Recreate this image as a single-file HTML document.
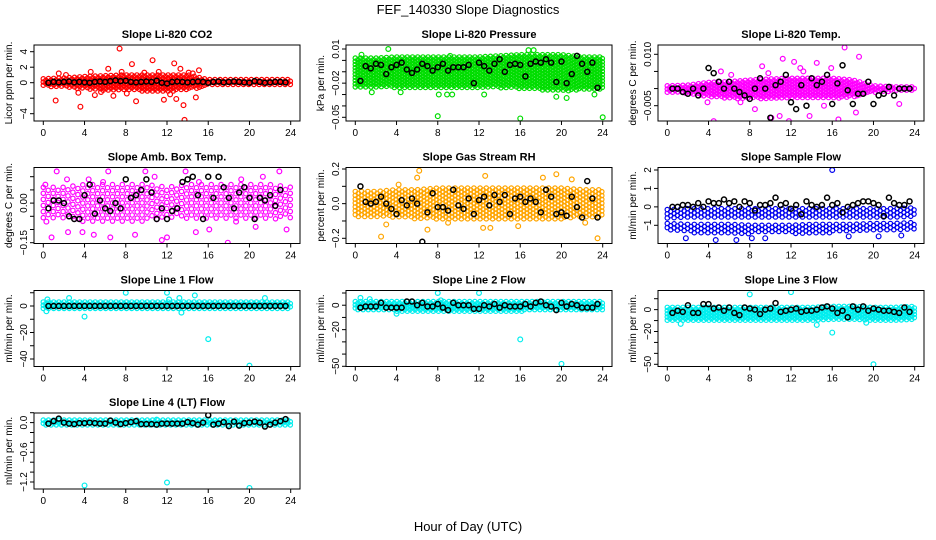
<!DOCTYPE html>
<html><head><meta charset="utf-8"><style>
html,body{margin:0;padding:0;background:#fff;}
svg{display:block;font-family:"Liberation Sans",sans-serif;}
</style></head><body>
<svg id="chart" width="936" height="540" viewBox="0 0 936 540">
<text x="468" y="14" text-anchor="middle" font-size="13">FEF_140330  Slope Diagnostics</text>
<text x="468" y="531" text-anchor="middle" font-size="13">Hour of Day (UTC)</text>
</svg>
<script>
const hours = [0.5,1,1.5,2,2.5,3,3.5,4,4.5,5,5.5,6,6.5,7,7.5,8,8.5,9,9.5,10,10.5,11,11.5,12,12.5,13,13.5,14,14.5,15,15.5,16,16.5,17,17.5,18,18.5,19,19.5,20,20.5,21,21.5,22,22.5,23,23.5];
const bandHours = [0,2,4,6,8,10,12,14,16,18,20,22,24];
const xTicks = [0,4,8,12,16,20,24];

const co2Black = [0,0.1,0.05,0.1,0.15,0.05,0.1,0.05,0,0.1,0.15,0.1,0.2,0.3,0.2,0.25,0.1,0.05,0.1,0.15,0.1,0.25,0,-0.1,0.1,0.15,0.1,0.05,0.1,0.15,0.1,0,0.1,0.15,0.05,0.1,0.15,0.1,0.05,0,0.2,0.1,0,0.05,0.1,0.1,0.05];
const co2Lo = [-0.5,-0.6,-0.8,-1.0,-1.0,-1.1,-1.1,-1.0,-0.4,-0.3,-0.3,-0.3,-0.3];
const co2Hi = [0.5,0.6,0.8,0.9,1.0,1.0,1.0,1.0,0.4,0.4,0.4,0.4,0.4];
const co2OutX = [1.2,3.6,7.4,8.6,10.6,12.7,13.6,13.7,6.3,9,11.7,14.8,5,7.6,15.1,13.3,1.5,4.6,6.8,12.9,14.5,2.2,3.4,9.8,11.2,12.3,14.1,5.6,8.1];
const co2OutY = [-2.3,-3.1,4.4,2.4,2.9,2.5,-2.9,-4.8,1.8,-2.4,-2.2,-1.9,-1.6,1.4,1.6,1.8,1.2,1.4,-1.7,-2.1,1.2,1.0,-1.3,1.3,1.4,-1.5,1.3,-1.2,-1.4];

const pressBlack = [-0.018,-0.005,-0.007,-0.003,-0.004,-0.012,-0.006,-0.004,-0.002,-0.008,-0.011,-0.008,-0.003,-0.005,-0.009,-0.006,-0.003,-0.009,-0.006,-0.006,-0.006,-0.004,-0.02,-0.002,-0.005,-0.009,-0.003,0.001,-0.01,-0.004,-0.003,-0.004,-0.014,-0.003,-0.001,-0.002,0.001,-0.002,-0.019,-0.001,-0.02,-0.012,0.004,-0.003,-0.01,-0.002,-0.024];
const pressLo = [-0.024,-0.024,-0.024,-0.025,-0.025,-0.025,-0.024,-0.024,-0.025,-0.026,-0.027,-0.026,-0.025];
const pressHi = [0.002,0.002,0.003,0.003,0.003,0.003,0.003,0.004,0.005,0.005,0.005,0.003,0.003];
const pressOutX = [8,16,24,3.2,16.8,17.3,9.2,1.6,4.4,8.1,8.9,9.4,12.5,19.5,20.5,23.2,0.6];
const pressOutY = [-0.049,-0.051,-0.05,0.01,0.009,0.009,0.004,-0.028,-0.028,-0.03,-0.03,-0.03,-0.03,-0.032,-0.033,-0.03,0.005];

const tempBlack = [0,0,-0.001,-0.0015,0,-0.002,0,0.006,0.0045,0.002,0,0.002,0,-0.001,-0.002,-0.003,0,0.003,0,-0.0085,0.001,0.002,0.004,-0.004,-0.006,0.001,-0.005,0.003,0.001,0.002,0.004,-0.0045,0.0015,0.0068,-0.0005,-0.0045,-0.0015,-0.0015,0.002,-0.0045,-0.002,-0.0015,0.0005,-0.002,0,0,0];
const tempLo = [-0.0012,-0.0015,-0.0025,-0.003,-0.003,-0.003,-0.003,-0.003,-0.003,-0.0025,-0.0012,-0.0008,-0.0008];
const tempHi = [0.0008,0.001,0.0018,0.002,0.0025,0.0028,0.003,0.003,0.003,0.0025,0.0008,0.0005,0.0005];
const tempOutX = [4.5,10.1,17.2,18.6,11.2,16,14.5,9.2,12.3,22.5,16.6,11.8,7.1,13.8,5.2,15.9,10.9,12.9,8.5,18.3,6.2,13.2,15.2,3.9,9.8];
const tempOutY = [-0.0095,-0.0085,0.012,0.0093,0.0087,-0.011,0.0075,0.0065,0.0078,-0.0045,-0.009,-0.0095,-0.004,-0.008,0.005,0.006,-0.008,0.006,-0.006,-0.007,0.004,0.005,-0.005,-0.004,0.0045];

const ambBlack = [-0.02,0.01,0.01,0,-0.05,-0.06,-0.06,0.03,0.07,-0.04,0.01,-0.02,-0.03,0,-0.02,0.09,0.02,0.03,0.05,0.09,0.04,-0.06,-0.02,-0.06,-0.03,-0.02,0.08,0.09,0.1,0.03,-0.06,0.1,0.02,0.1,0.06,0.02,-0.02,0.04,0.06,0.02,-0.06,0.02,0.01,0.03,-0.01,0.05,0.15];
const ambLo = [-0.06,-0.06,-0.07,-0.07,-0.07,-0.07,-0.06,-0.06,-0.06,-0.06,-0.06,-0.06,-0.06];
const ambHi = [0.06,0.06,0.07,0.07,0.07,0.07,0.06,0.07,0.07,0.07,0.07,0.07,0.06];
const ambOutX = [1.3,0.8,0.3,6.3,6.5,9.9,11.5,12,13.8,14.8,17.9,22.9,23.6,20.6,4.9,2.4,3.8,8.9,16.1,18.7,2.3,4.4,10.8,15.1,21.3,0.2,5.8,19.2];
const ambOutY = [0.12,-0.13,-0.07,0.12,-0.13,0.12,-0.14,-0.13,0.12,-0.11,-0.15,0.12,-0.1,-0.09,-0.12,-0.11,-0.11,-0.12,-0.1,-0.07,0.09,0.09,0.1,0.08,0.1,0.07,0.08,0.09];

const rhBlack = [0.1,0.01,0,0.01,0.04,0,-0.03,-0.06,0.02,-0.01,0.03,0,-0.22,-0.05,0.06,-0.02,-0.02,-0.04,0.08,-0.01,-0.03,0.03,-0.06,0.02,0.04,-0.01,0.05,0.01,0.05,-0.06,0.03,0.04,0.01,0.03,0.01,-0.05,0.08,0.04,-0.06,-0.05,-0.07,0.04,-0.02,-0.08,0.13,0.03,-0.08];
const rhLo = [-0.08,-0.08,-0.08,-0.09,-0.09,-0.09,-0.09,-0.09,-0.09,-0.09,-0.09,-0.08,-0.08];
const rhHi = [0.07,0.07,0.08,0.08,0.09,0.09,0.09,0.09,0.09,0.09,0.09,0.08,0.08];
const rhOutX = [2.5,6.2,12.6,19.5,23.5,7,6,21,13.1,3,15.8,22.3,4.2,18.2,12.4,9];
const rhOutY = [-0.19,0.19,0.16,0.17,-0.2,-0.15,0.15,0.14,-0.14,-0.12,-0.13,-0.11,0.11,0.15,-0.14,-0.11];

const flowBlack = [0,0,0.1,0.1,0,0.2,0,0.3,0.2,0.2,0.4,0.2,0.3,0,0.3,0.2,-0.2,0.1,0.1,0.2,0.5,0.1,0.2,-0.1,0.1,-0.4,0.3,0.1,0,0.1,0.5,0.1,0.2,-0.3,0,0.1,0.2,0.3,0.3,0.2,0.1,-0.5,0.5,0.2,0.1,0.1,0.3];
const flowLo = [-0.65,-0.65,-0.65,-0.65,-0.65,-0.65,-0.65,-0.65,-0.65,-0.65,-0.65,-0.65,-0.6];
const flowHi = [-0.15,-0.1,-0.1,-0.1,-0.1,-0.1,-0.1,-0.1,-0.1,-0.1,-0.1,-0.1,-0.05];
const flowLo2 = [-1.35,-1.4,-1.45,-1.45,-1.45,-1.45,-1.45,-1.45,-1.4,-1.35,-1.35,-1.35,-1.3];
const flowHi2 = [-0.9,-0.95,-0.95,-0.95,-1.0,-1.0,-1.0,-0.95,-0.95,-0.95,-0.9,-0.9,-0.85];
const flowOutX = [16,4.7,1.8,6.7,9.5,17.6,20.5,22.7,8.2];
const flowOutY = [2,-1.8,-1.7,-1.8,-1.7,-1.6,-1.6,-1.55,-1.7];

const line1Black = [0,0,0,0,0,0,0,0,0,0,0,0,0,0,0,0,0,0,0,0,0,0,0,0,0,0,0,0,0,0,0,0,0,0,0,0,0,0,0,0,0,0,0,0,0,0,0];
const line1Lo = [-3,-3,-3,-3,-3,-3,-3,-3,-3,-3,-3,-3,-3];
const line1Hi = [3,3,3,3,3,3,3,3,3,3,3,3,3];
const line1OutX = [16,20,8,12,4,14.7,13.2,13.4,21.5,2.5,0.4,0.3,12.2];
const line1OutY = [-25,-45,10,10,-8,8,6,-5,6,6,5,-4,5];

const line2Black = [-2,-1,-1,-1,2,-2,-2,-2,-2,3,3,0,2,-1,-1,1,-2,-4,2,0,0,0,-3,-3,0,-1,1,-2,0,-1,-1,-1,1,-1,2,3,0,-1,-4,2,-1,1,0,-2,-2,-2,1];
const line2Lo = [-4,-4,-5,-5,-5,-5,-5,-5,-5,-4,-4,-4,-4];
const line2Hi = [3,3,3,3,3,3,3,3,3,3,3,3,3];
const line2OutX = [16,20,8,12,4,0.5,1.4,8.3];
const line2OutY = [-28,-48,10,10,-7,6,5,4];

const line3Black = [-3,-1,-2,4,-3,-3,5,5,1,2,-1,2,-3,-5,2,1,0,-4,0,1,6,-2,-1,0,1,-2,-1,-1,0,2,3,1,-3,-1,-7,3,0,3,-1,1,0,-1,-1,-2,-3,2,-2];
const line3Lo = [-10,-11,-11,-11,-11,-11,-11,-11,-10,-10,-11,-11,-10];
const line3Hi = [2,2,2,2,2,2,2,2,3,3,2,2,3];
const line3OutX = [16,20,8,12,1.3,14.5,19.3];
const line3OutY = [-21,-50,14,16,-13,-14,-12];

const line4Black = [-0.02,0.03,0.08,0,-0.02,-0.03,-0.01,-0.01,0,-0.01,-0.02,-0.02,0.04,0,-0.03,-0.01,0.01,0.03,-0.03,-0.03,-0.03,-0.04,-0.02,-0.02,-0.02,-0.02,-0.02,0.01,-0.01,-0.04,0,0.15,-0.04,-0.02,0.01,-0.07,0.02,-0.06,-0.01,0,0.02,0,-0.08,-0.04,0,0.03,0.07];
const line4Lo = [-0.06,-0.06,-0.06,-0.06,-0.06,-0.06,-0.06,-0.06,-0.06,-0.06,-0.06,-0.06,-0.06];
const line4Hi = [0.05,0.05,0.05,0.05,0.05,0.05,0.05,0.05,0.05,0.05,0.05,0.05,0.05];
const line4OutX = [4,12,20,11];
const line4OutY = [-1.27,-1.21,-1.32,0.06];

const NS = 'http://www.w3.org/2000/svg';
const svg = document.getElementById('chart');
function mk(tag, attrs, parent) {
  const e = document.createElementNS(NS, tag);
  for (const k in attrs) e.setAttribute(k, attrs[k]);
  (parent || svg).appendChild(e);
  return e;
}
const colLeft = [34, 346, 658];
const rowTop = [45, 167.5, 290.5, 413];
const BW = 266, BH = 76;

const panels = [
  {name:'co2', title:'Slope Li-820 CO2', ylab:'Licor ppm per min.', color:'#ff0000', c:0, r:0, a:[4,51.7,-4,113.7], ticks:[4,2,0,-2,-4], labels:['4','2','0','','−4'], black:co2Black, bands:[[co2Lo,co2Hi]], ox:co2OutX, oy:co2OutY, dens:1},
  {name:'pressure', title:'Slope Li-820 Pressure', ylab:'kPa per min.', color:'#00dd00', c:1, r:0, a:[0.01,49,-0.05,117.3], ticks:[0.01,0,-0.01,-0.02,-0.03,-0.04,-0.05], labels:['0.01','','','−0.02','','','−0.05'], black:pressBlack, bands:[[pressLo,pressHi]], ox:pressOutX, oy:pressOutY, dens:1},
  {name:'temp', title:'Slope Li-820 Temp.', ylab:'degrees C per min.', color:'#ff00ff', c:2, r:0, a:[0.01,54.3,-0.005,105.7], ticks:[0.01,0.005,0,-0.005], labels:['0.010','','','−0.005'], black:tempBlack, bands:[[tempLo,tempHi]], ox:tempOutX, oy:tempOutY, dens:1},
  {name:'amb-box-temp', title:'Slope Amb. Box Temp.', ylab:'degrees C per min.', color:'#ff00ff', c:0, r:1, a:[0.1,176.7,-0.15,242.7], ticks:[0.1,0.05,0,-0.05,-0.1,-0.15], labels:['','','0.00','','','−0.15'], black:ambBlack, bands:[[ambLo,ambHi]], ox:ambOutX, oy:ambOutY, dens:1.9},
  {name:'gas-stream-rh', title:'Slope Gas Stream RH', ylab:'percent per min.', color:'#ffa500', c:1, r:1, a:[0.2,169,-0.2,238.3], ticks:[0.2,0.1,0,-0.1,-0.2], labels:['0.2','','0.0','','−0.2'], black:rhBlack, bands:[[rhLo,rhHi]], ox:rhOutX, oy:rhOutY, dens:1.2},
  {name:'sample-flow', title:'Slope Sample Flow', ylab:'ml/min per min.', color:'#0000ee', c:2, r:1, a:[2,170,-1,225.3], ticks:[2,1,0,-1], labels:['2','1','0','−1'], black:flowBlack, bands:[[flowLo,flowHi],[flowLo2,flowHi2]], ox:flowOutX, oy:flowOutY, dens:1.3},
  {name:'line1-flow', title:'Slope Line 1 Flow', ylab:'ml/min per min.', color:'#00eeee', c:0, r:2, a:[0,306,-40,359], ticks:[10,0,-10,-20,-30,-40], labels:['','0','','−20','','−40'], black:line1Black, bands:[[line1Lo,line1Hi]], ox:line1OutX, oy:line1OutY, dens:1},
  {name:'line2-flow', title:'Slope Line 2 Flow', ylab:'ml/min per min.', color:'#00eeee', c:1, r:2, a:[10,293,-50,366.3], ticks:[10,0,-10,-20,-30,-40,-50], labels:['','0','','−20','','','−50'], black:line2Black, bands:[[line2Lo,line2Hi]], ox:line2OutX, oy:line2OutY, dens:1},
  {name:'line3-flow', title:'Slope Line 3 Flow', ylab:'ml/min per min.', color:'#00eeee', c:2, r:2, a:[10,298.7,-50,364.3], ticks:[10,0,-10,-20,-30,-40,-50], labels:['','0','','−20','','','−50'], black:line3Black, bands:[[line3Lo,line3Hi]], ox:line3OutX, oy:line3OutY, dens:1},
  {name:'line4-flow', title:'Slope Line 4 (LT) Flow', ylab:'ml/min per min.', color:'#00eeee', c:0, r:3, a:[0.2,412.7,-1.2,482], ticks:[0.2,0,-0.2,-0.4,-0.6,-0.8,-1,-1.2], labels:['','0.0','','','−0.6','','','−1.2'], black:line4Black, bands:[[line4Lo,line4Hi]], ox:line4OutX, oy:line4OutY, dens:1}
];

panels.forEach(function(p, pi) {
  const L = colLeft[p.c], T = rowTop[p.r];
  const xs = function(h){ return L + 9.3 + h * (247.4 / 24); };
  const ys = function(v){ return p.a[1] + (v - p.a[0]) * (p.a[3] - p.a[1]) / (p.a[2] - p.a[0]); };
  const g = mk('g', {});
  
  
  const clipId = 'clip' + pi;
  const cp = mk('clipPath', {id: clipId}, g);
  mk('rect', {x: L, y: T, width: BW, height: BH}, cp);
  const t = mk('text', {x: L + BW/2, y: T - 7, 'text-anchor':'middle', 'font-size':'11', 'font-weight':'bold'}, g);
  t.textContent = p.title;
  
  
  const yl = mk('text', {transform:'translate(' + (L - 22) + ',' + (T + BH/2) + ') rotate(-90)', 'text-anchor':'middle', 'font-size':'10'}, g);
  yl.textContent = p.ylab;
  
  
  const cloud = mk('g', {'clip-path':'url(#' + clipId + ')', fill:'none', stroke:p.color, 'stroke-width':'1.2'}, g);
  
  
  const interp = function(arr, h) {
    const i = Math.min(Math.floor(h / 2), bandHours.length - 2);
    const f = (h - bandHours[i]) / (bandHours[i+1] - bandHours[i]);
    return arr[i] + (arr[i+1] - arr[i]) * f;
  };
  p.bands.forEach(function(b) {
    let col = 0;
    for (let px = xs(0); px <= xs(24) + 0.1; px += 2.6 * p.dens) {
      const h = (px - xs(0)) / (247.4 / 24);
      const top = ys(interp(b[1], h)), bot = ys(interp(b[0], h));
      for (let py = top + ((col % 2) ? 1.6 : 0) * p.dens; py <= bot; py += 3.2 * p.dens) {
        const ci = mk('circle', {cx: px.toFixed(1), cy: py.toFixed(1), r: 2.2}, cloud);
        
        
      }
      col++;
    }
  });
  p.ox.forEach(function(x, i) {
    const ci = mk('circle', {cx: xs(x), cy: ys(p.oy[i]), r: 2.4}, cloud);
    
    
  });
  const bg = mk('g', {'clip-path':'url(#' + clipId + ')', fill:'none', stroke:'#000', 'stroke-width':'1.5'}, g);
  
  
  p.black.forEach(function(v, i) {
    if (i >= hours.length) return;
    const ci = mk('circle', {cx: xs(hours[i]), cy: ys(v), r: 2.5}, bg);
    
    
  });
  const box = mk('rect', {x: L, y: T, width: BW, height: BH, fill:'none', stroke:'#000', 'stroke-width':'1'}, g);
  
  
  xTicks.forEach(function(h) {
    mk('line', {x1: xs(h), x2: xs(h), y1: T + BH, y2: T + BH + 4, stroke:'#000'}, g);
    const tl = mk('text', {x: xs(h), y: T + BH + 15, 'text-anchor':'middle', 'font-size':'10'}, g);
    tl.textContent = h;
    
    
  });
  p.ticks.forEach(function(v, i) {
    const y = ys(v);
    mk('line', {x1: L - 4, x2: L, y1: y, y2: y, stroke:'#000'}, g);
    if (p.labels[i]) {
      const tl = mk('text', {transform:'translate(' + (L - 7) + ',' + y + ') rotate(-90)', 'text-anchor':'middle', 'font-size':'10'}, g);
      tl.textContent = p.labels[i];
      
      
    }
  });
});
</script>
</body></html>
